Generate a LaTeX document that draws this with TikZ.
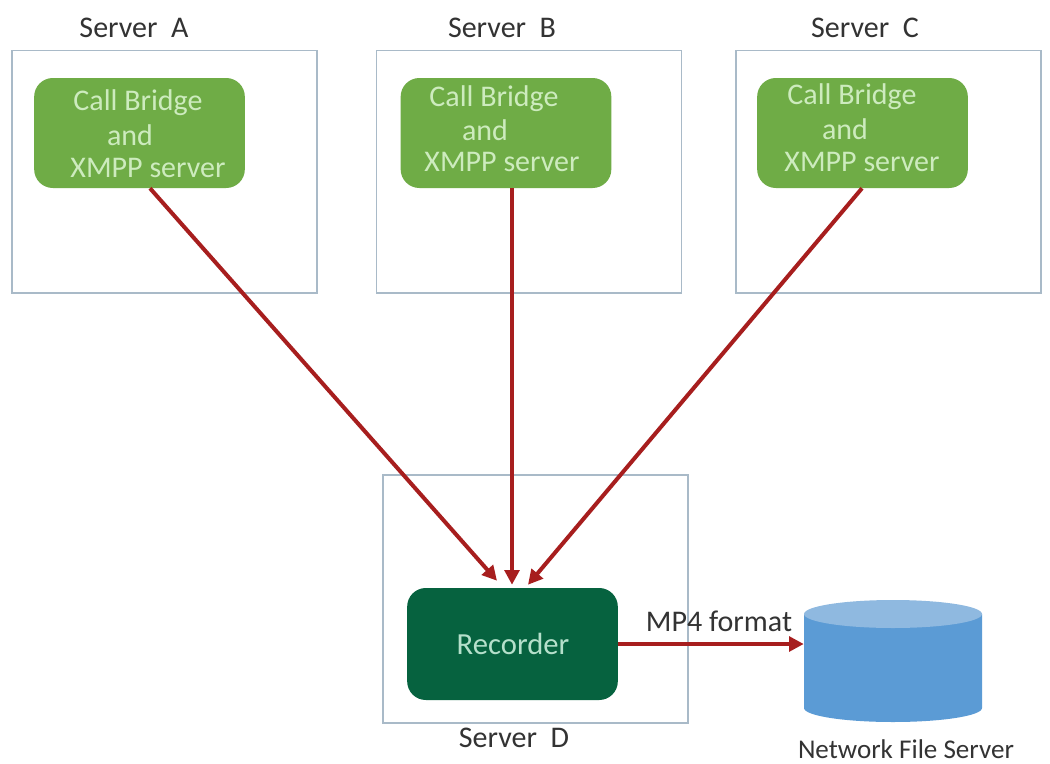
\documentclass[tikz,border=0pt]{standalone}
\usepackage{fontspec}
\setmainfont{Carlito}
\usetikzlibrary{arrows.meta,calc}
\definecolor{boxline}{HTML}{A9BAC8}
\definecolor{cbgreen}{HTML}{6FAC46}
\definecolor{cbtext}{HTML}{CDEBBE}
\definecolor{recgreen}{HTML}{06623F}
\definecolor{rectext}{HTML}{B5E0CB}
\definecolor{arrowred}{HTML}{A71E1E}
\definecolor{labelgrey}{HTML}{333333}
\definecolor{cylbody}{HTML}{5B9BD5}
\definecolor{cyltop}{HTML}{8FB9E0}
\tikzset{
  x=0.75pt,y=-0.75pt,
  serverbox/.style={draw=boxline,line width=1pt,fill=white,inner sep=0pt,minimum width=228.75pt,minimum height=182pt},
  cbbox/.style={fill=cbgreen,draw=none,rounded corners=14pt,inner sep=0pt,minimum width=158pt,minimum height=82.5pt},
  recbox/.style={fill=recgreen,draw=none,rounded corners=14pt,inner sep=0pt,minimum width=158pt,minimum height=84pt},
  cbtxt/.style={text=cbtext,inner sep=0pt,font=\fontsize{22.5pt}{24pt}\selectfont},
  rectxt/.style={text=rectext,inner sep=0pt,font=\fontsize{23pt}{24pt}\selectfont},
  lbl/.style={text=labelgrey,inner sep=0pt,font=\fontsize{22.5pt}{24pt}\selectfont},
  nfslbl/.style={text=labelgrey,inner sep=0pt,font=\fontsize{20.3pt}{22pt}\selectfont},
  link/.style={draw=arrowred,line width=3pt,-{Triangle[length=11pt,width=11pt]}},
  diskframe/.style={draw=none,inner sep=0pt,minimum width=133.5pt,minimum height=91.5pt}
}
\begin{document}
\begin{tikzpicture}
\useasboundingbox (0,0) rectangle (1050,764);
\fill[white] (0,0) rectangle (1050,764);
% server boxes
\node[serverbox] (sa) at (164.5,171.5) {};
\node[serverbox] (sb) at (529,171.5) {};
\node[serverbox] (sc) at (888.5,171.5) {};
\node[serverbox,minimum height=186pt] (sd) at (535.5,599) {};
% inner boxes
\node[cbbox] (ga) at (139.5,133) {};
\node[cbbox] (gb) at (506,133) {};
\node[cbbox] (gc) at (862.5,133) {};
\node[recbox] (rec) at (512.5,644) {};
% disk
\node[diskframe] (nfs) at (893,661) {};
\fill[cylbody] (804,614) -- (804,708) arc[start angle=180,end angle=0,x radius=89,y radius=14] -- (982,614) -- cycle;
\fill[cyltop] (893,614) ellipse[x radius=89,y radius=14];
% titles
\node[lbl] (ta) at (134,28) {Server\ \ A};
\node[lbl] (tb) at (502,28) {Server\ \ B};
\node[lbl] (tc) at (865,28) {Server\ \ C};
\node[lbl] (td) at (514,738) {Server\ \ D};
\node[lbl] (mp) at (719,621) {MP4 format};
\node[nfslbl] (tn) at (906,749) {Network File Server};
% inner text
\node[cbtxt] (a1) at (138,103) {Call Bridge};
\node[cbtxt] (a2) at (130,135) {and};
\node[cbtxt] (a3) at (148,168) {XMPP server};
\node[cbtxt] (b1) at (494,99) {Call Bridge};
\node[cbtxt] (b2) at (485,130) {and};
\node[cbtxt] (b3) at (502,162) {XMPP server};
\node[cbtxt] (c1) at (852,97) {Call Bridge};
\node[cbtxt] (c2) at (845,129) {and};
\node[cbtxt] (c3) at (862,162) {XMPP server};
\node[rectxt] (rt) at (513,644) {Recorder};
% connectors
\draw[link] ($(ga.south)+(10.5,0)$) -- ($(rec.north)+(-15.5,-7)$);
\draw[link] ($(gb.south)+(6,0)$) -- ($(rec.north)+(-0.5,-3)$);
\draw[link] ($(gc.south)+(-0.5,0)$) -- ($(rec.north)+(15.5,-3)$);
\draw[link] (rec.east) -- (rec.east -| nfs.west);
\end{tikzpicture}
\end{document}
